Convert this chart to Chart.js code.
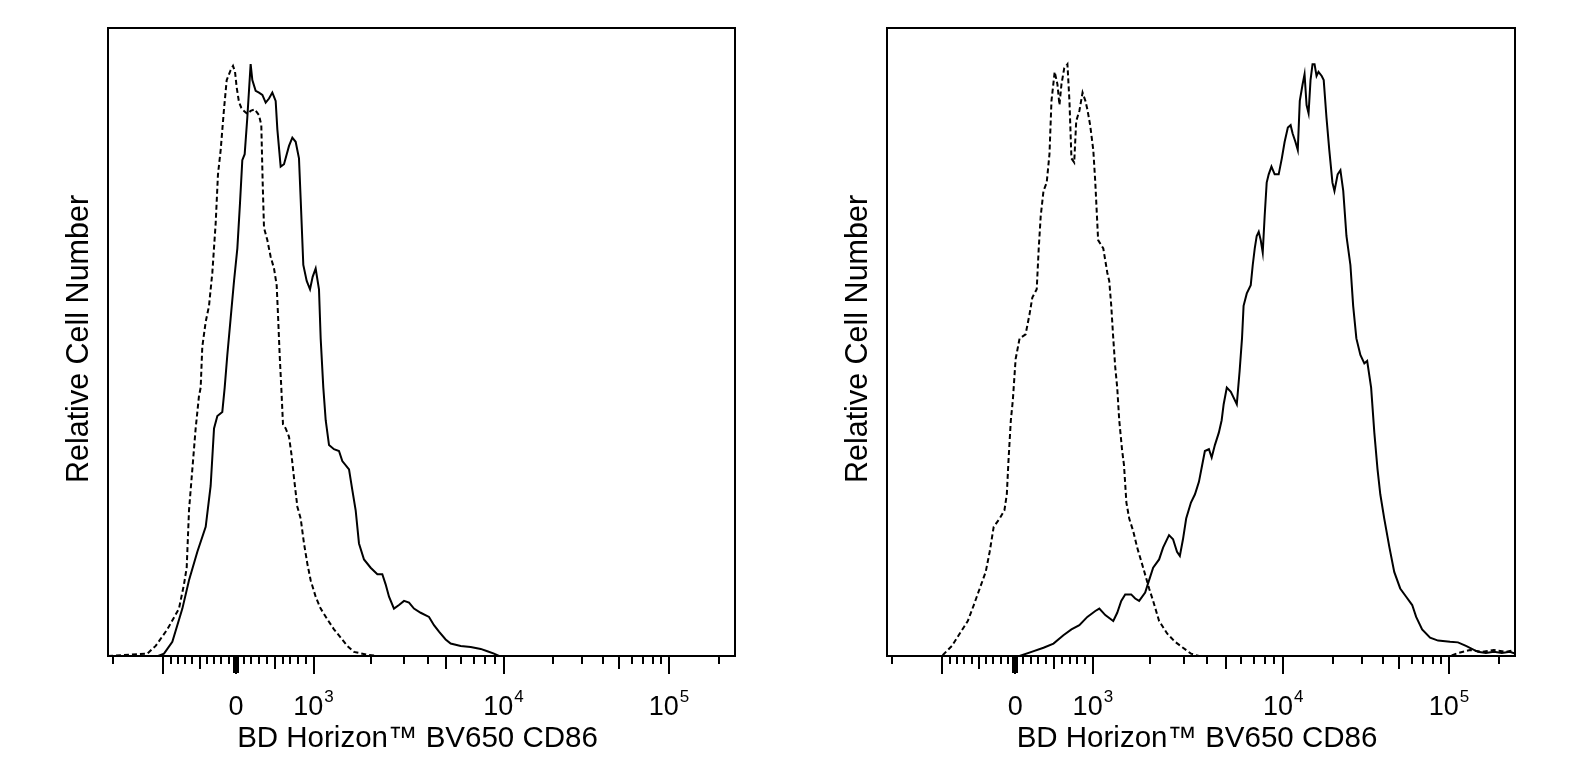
<!DOCTYPE html>
<html>
<head>
<meta charset="utf-8">
<script src="https://cdn.jsdelivr.net/npm/chart.js@4.4.0/dist/chart.umd.min.js"></script>
<style>
  body { margin: 0; background: #fff; }
  #wrap { position: relative; width: 1577px; height: 774px; }
  canvas { position: absolute; top: 0; }
</style>
</head>
<body>
<div id="wrap">
  <canvas id="leftChart" width="780" height="774" style="left:0"></canvas>
  <canvas id="rightChart" width="797" height="774" style="left:780px"></canvas>
</div>
<script>
// x values are display channels (0-1000 across the plot), y is relative cell count
var leftCtrlX = [0, 62.7, 76.0, 94.6, 113.2, 121.2, 125.5, 129.2, 134.5, 139.8, 145.1, 147.8, 150.4, 155.8, 161.1, 166.4, 171.7, 175.4, 179.7, 185.0, 189.3, 195.6, 199.4, 202.6, 205.2, 208.9, 212.7, 216.9, 222.2, 227.5, 233.9, 240.8, 244.5, 246.7, 248.8, 254.1, 259.4, 264.8, 269.0, 271.1, 273.8, 276.4, 279.1, 283.4, 288.7, 292.4, 296.6, 302.0, 307.3, 312.6, 317.9, 323.2, 331.2, 339.2, 349.8, 360.4, 371.1, 381.7, 392.3, 413.6, 429.6, 1000];
var leftCtrlY = [0, 0.4, 1.7, 4.5, 8.0, 12.1, 14.9, 24.6, 31.5, 38.4, 43.9, 45.3, 52.2, 56.4, 59.1, 64.7, 73.0, 81.3, 85.4, 92.3, 97.2, 98.9, 99.6, 98.6, 96.0, 93.5, 92.5, 92.0, 91.5, 92.0, 92.3, 91.3, 89.6, 79.9, 72.3, 70.2, 67.4, 65.4, 62.6, 57.7, 50.8, 45.3, 39.1, 38.4, 37.0, 34.2, 30.1, 25.2, 23.2, 19.0, 15.6, 12.8, 10.0, 8.0, 6.2, 4.5, 3.1, 1.7, 0.7, 0.2, 0, 0];

var leftCd86X = [0, 80, 89.3, 102.6, 118.6, 129.2, 142.5, 155.8, 163.7, 169.1, 174.4, 182.3, 186.1, 190.3, 195.6, 201.0, 206.3, 210.5, 214.2, 218.0, 222.2, 227.5, 230.2, 235.5, 240.8, 246.2, 251.5, 256.8, 262.1, 267.4, 270.1, 275.4, 280.7, 288.7, 294.0, 299.3, 304.6, 307.3, 311.5, 316.9, 322.2, 326.4, 331.2, 336.5, 339.2, 343.4, 347.2, 352.5, 360.4, 368.4, 373.7, 384.4, 389.7, 395.0, 400.3, 408.3, 418.9, 429.6, 437.5, 442.8, 448.2, 456.1, 464.1, 472.1, 480.1, 488.0, 498.7, 512.0, 519.9, 527.9, 538.5, 546.5, 562.5, 578.4, 594.4, 605.0, 615.6, 623.6, 1000];
var leftCd86Y = [0, 0, 0.4, 2.4, 8.0, 12.8, 17.6, 21.8, 28.7, 38.4, 40.5, 41.2, 45.3, 50.8, 57.0, 63.3, 68.8, 76.4, 83.7, 84.7, 90.9, 99.9, 97.2, 95.4, 95.1, 94.7, 93.4, 94.1, 95.1, 93.7, 88.9, 82.6, 83.0, 86.1, 87.5, 86.8, 84.0, 77.1, 66.0, 63.3, 61.9, 64.0, 65.4, 61.9, 53.6, 45.3, 39.8, 35.6, 34.9, 34.6, 32.9, 31.5, 28.0, 24.6, 19.0, 16.3, 14.9, 13.8, 13.8, 12.1, 10.0, 8.0, 8.6, 9.3, 9.0, 8.0, 7.3, 6.6, 5.2, 4.1, 2.8, 2.1, 1.7, 1.5, 1.2, 0.8, 0.4, 0, 0];

var rightCtrlX = [0, 87.4, 103.3, 115.9, 128.6, 138.2, 147.7, 157.2, 163.5, 169.9, 179.4, 187.0, 190.8, 193.4, 197.2, 200.4, 204.8, 211.1, 220.7, 227.0, 231.4, 238.4, 241.6, 244.8, 249.2, 254.3, 258.7, 261.9, 267.0, 271.4, 274.6, 277.8, 282.2, 287.3, 290.5, 293.7, 298.1, 301.3, 306.3, 311.4, 315.9, 319.0, 323.5, 328.5, 331.7, 336.2, 344.4, 350.8, 353.9, 357.1, 360.3, 363.4, 366.6, 369.8, 374.2, 377.4, 381.2, 385.7, 392.0, 398.4, 407.9, 417.4, 423.8, 433.3, 446.0, 458.6, 471.3, 484.0, 496.7, 896.6, 909.2, 928.3, 947.3, 966.3, 985.4, 1000];
var rightCtrlY = [0, 0, 1.7, 3.8, 5.9, 8.6, 11.4, 14.2, 17.6, 21.8, 23.2, 24.6, 27.3, 32.9, 39.8, 43.2, 50.1, 53.6, 54.3, 57.7, 60.5, 61.9, 68.8, 74.3, 78.5, 79.9, 84.7, 93.7, 98.6, 96.5, 93.0, 96.5, 99.2, 99.9, 93.7, 84.0, 83.3, 90.3, 92.0, 95.1, 93.7, 92.3, 89.6, 85.4, 79.9, 70.2, 68.8, 64.7, 63.3, 59.1, 53.6, 48.8, 45.3, 39.8, 34.9, 32.2, 25.9, 23.2, 21.1, 18.3, 14.9, 11.4, 9.3, 5.9, 3.8, 2.4, 1.4, 0.4, 0, 0, 0.5, 1.0, 0.7, 1.0, 0.7, 1.0];

var rightCd86X = [0, 211.1, 230.2, 249.2, 265.1, 280.9, 293.7, 306.3, 319.0, 331.7, 338.1, 347.6, 360.3, 366.6, 373.0, 379.3, 388.8, 395.2, 401.5, 411.1, 417.4, 423.8, 433.3, 439.6, 449.1, 455.5, 461.8, 466.3, 471.3, 476.4, 484.0, 490.4, 496.7, 501.8, 506.2, 512.6, 517.0, 522.1, 528.4, 532.9, 536.1, 541.1, 547.5, 557.0, 561.5, 565.3, 567.8, 572.9, 579.2, 582.4, 585.6, 588.7, 591.9, 595.1, 598.3, 601.4, 604.6, 607.8, 612.2, 617.3, 623.7, 628.7, 633.2, 638.3, 642.7, 645.9, 650.3, 654.1, 657.3, 661.8, 664.9, 668.1, 671.3, 674.4, 677.6, 680.8, 684.0, 687.1, 692.2, 695.4, 699.8, 704.3, 709.3, 712.5, 717.6, 722.0, 726.5, 731.6, 737.9, 742.3, 747.4, 753.8, 760.1, 764.6, 770.9, 776.0, 781.1, 785.5, 791.8, 800.1, 807.7, 817.2, 826.7, 836.3, 842.6, 852.1, 864.8, 877.5, 896.6, 909.2, 921.9, 940.9, 953.6, 966.3, 979.0, 991.7, 1000];
var rightCd86Y = [0, 0, 0.7, 1.4, 2.1, 3.5, 4.5, 5.2, 6.6, 7.6, 8.0, 6.9, 5.9, 7.3, 9.3, 10.4, 10.4, 9.7, 9.3, 10.7, 12.8, 14.9, 16.3, 18.3, 20.4, 19.7, 17.6, 16.9, 19.7, 23.2, 25.9, 27.3, 29.4, 32.2, 34.6, 34.9, 33.5, 35.6, 37.7, 39.8, 42.5, 45.3, 44.6, 42.5, 48.1, 53.6, 59.1, 61.2, 62.6, 66.0, 68.8, 70.9, 71.6, 70.2, 68.1, 74.3, 79.9, 81.3, 82.6, 81.3, 81.3, 84.0, 86.8, 89.2, 89.6, 88.2, 86.8, 85.4, 93.7, 96.5, 98.2, 93.0, 91.6, 97.2, 99.9, 99.9, 97.9, 98.6, 97.9, 97.2, 90.9, 85.4, 79.9, 78.5, 81.3, 82.0, 78.5, 70.9, 66.0, 59.1, 53.6, 50.8, 49.4, 49.8, 45.3, 37.7, 31.5, 27.3, 23.2, 18.3, 14.2, 11.4, 10.0, 8.6, 6.6, 4.5, 3.1, 2.6, 2.4, 2.3, 1.7, 0.7, 0.5, 0.7, 0.5, 0.7, 0.4];

// axis ticks (fluorescence values)
var majorTicks = [-1000, 0, 1000, 10000, 100000];
var mediumTicks = [-500, 500, 5000, 50000];
var minorTicks = [-900, -800, -700, -600, -400, -300, -200, -100, 100, 200, 300, 400, 600, 700, 800, 900,
  2000, 3000, 4000, 6000, 7000, 8000, 9000, 20000, 30000, 40000, 60000, 70000, 80000, 90000, 200000];
var labelValues = [0, 1000, 10000, 100000];
var labelBase = ['0', '10', '10', '10'];
var labelExp = ['', '3', '4', '5'];

var xTitle = 'BD Horizon\u2122 BV650 CD86';
var yTitle = 'Relative Cell Number';

// biexponential-like display transform: value -> channel
function toChannel(v) {
  if (v < 0) return 204.1 + v * 0.1159;
  if (v <= 1000) return 204.1 + v * 0.1237;
  if (v <= 10000) return 327.8 + 303 * Math.log10(v / 1000);
  return 630.8 + 263.9 * Math.log10(v / 10000);
}

function points(xs, ys) {
  return xs.map(function (x, i) { return { x: x, y: ys[i] }; });
}

var FONT = '"Liberation Sans", Arial, sans-serif';

var axisPlugin = {
  id: 'facsAxis',
  afterDatasetsDraw: function (chart) {
    var ctx = chart.ctx;
    var a = chart.chartArea;
    var xs = chart.scales.x;
    ctx.save();
    ctx.strokeStyle = '#000';
    ctx.fillStyle = '#000';
    ctx.lineWidth = 2;
    ctx.strokeRect(a.left, a.top, a.right - a.left, a.bottom - a.top);

    function tick(v, len) {
      var x = Math.round(xs.getPixelForValue(toChannel(v)));
      ctx.beginPath();
      ctx.moveTo(x, a.bottom);
      ctx.lineTo(x, a.bottom + len);
      ctx.stroke();
      return x;
    }
    // edge tick
    ctx.beginPath();
    ctx.moveTo(a.left + 5, a.bottom);
    ctx.lineTo(a.left + 5, a.bottom + 8);
    ctx.stroke();
    minorTicks.forEach(function (v) { tick(v, 8); });
    mediumTicks.forEach(function (v) { tick(v, 13); });
    majorTicks.forEach(function (v) {
      var x = tick(v, 18);
      if (v === 0) {
        ctx.fillRect(x - 3, a.bottom, 6, 10);
        ctx.beginPath();
        ctx.moveTo(x - 2, a.bottom); ctx.lineTo(x - 2, a.bottom + 17);
        ctx.moveTo(x + 2, a.bottom); ctx.lineTo(x + 2, a.bottom + 17);
        ctx.stroke();
      }
    });

    // tick labels with superscript exponents
    ctx.textAlign = 'left';
    ctx.textBaseline = 'alphabetic';
    labelValues.forEach(function (v, i) {
      var x = xs.getPixelForValue(toChannel(v));
      ctx.font = '27px ' + FONT;
      var wb = ctx.measureText(labelBase[i]).width;
      ctx.font = '17px ' + FONT;
      var we = labelExp[i] ? ctx.measureText(labelExp[i]).width + 1 : 0;
      var start = x - (wb + we) / 2;
      ctx.font = '27px ' + FONT;
      ctx.fillText(labelBase[i], start, a.bottom + 59);
      if (labelExp[i]) {
        ctx.font = '17px ' + FONT;
        ctx.fillText(labelExp[i], start + wb + 1, a.bottom + 46);
      }
    });

    // axis titles
    ctx.font = '29.5px ' + FONT;
    ctx.textAlign = 'center';
    ctx.fillText(xTitle, (a.left + a.right) / 2 - 4, a.bottom + 91);
    ctx.font = '30.5px ' + FONT;
    ctx.translate(a.left - 20, (a.top + a.bottom) / 2 - 3);
    ctx.rotate(-Math.PI / 2);
    ctx.fillText(yTitle, 0, 0);
    ctx.restore();
  }
};

function makeChart(id, padLeft, padRight, ctrlX, ctrlY, cdX, cdY) {
  return new Chart(document.getElementById(id).getContext('2d'), {
    type: 'line',
    data: {
      datasets: [{
        label: 'Isotype control',
        data: points(ctrlX, ctrlY),
        borderColor: '#000',
        borderWidth: 2,
        borderDash: [5, 3],
        pointRadius: 0,
        tension: 0,
        fill: false
      }, {
        label: 'CD86',
        data: points(cdX, cdY),
        borderColor: '#000',
        borderWidth: 2,
        pointRadius: 0,
        tension: 0,
        fill: false
      }]
    },
    options: {
      responsive: false,
      animation: false,
      devicePixelRatio: 1,
      layout: { padding: { left: padLeft, right: padRight, top: 28, bottom: 118 } },
      plugins: { legend: { display: false }, tooltip: { enabled: false } },
      scales: {
        x: { type: 'linear', min: 0, max: 1000, display: false },
        y: { min: 0, max: 106, display: false }
      }
    },
    plugins: [axisPlugin]
  });
}

makeChart('leftChart', 108, 45, leftCtrlX, leftCtrlY, leftCd86X, leftCd86Y);
makeChart('rightChart', 107, 62, rightCtrlX, rightCtrlY, rightCd86X, rightCd86Y);
</script>
</body>
</html>
